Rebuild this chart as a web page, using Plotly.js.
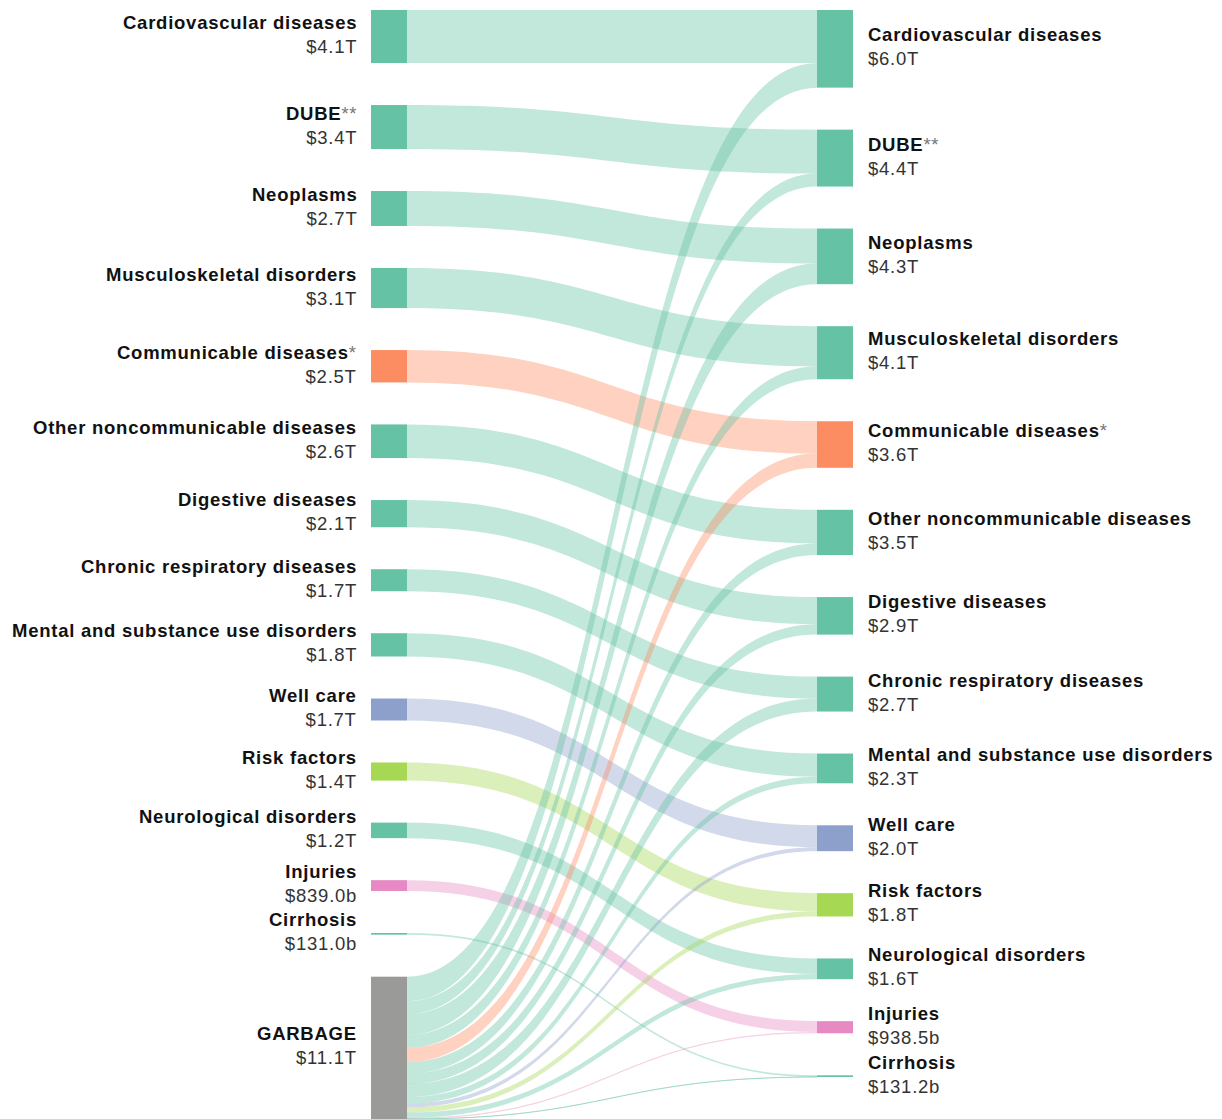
<!DOCTYPE html>
<html>
<head>
<meta charset="utf-8">
<script src="https://cdn.plot.ly/plotly-3.0.1.min.js"></script>
<style>
  html, body { margin: 0; padding: 0; background: #ffffff; }
  #chart { width: 1222px; height: 1119px; }
</style>
</head>
<body>
<div id="chart"></div>
<script>
// ---------- DATA ----------
const categories = [
  "Cardiovascular diseases", "DUBE", "Neoplasms", "Musculoskeletal disorders",
  "Communicable diseases", "Other noncommunicable diseases", "Digestive diseases",
  "Chronic respiratory diseases", "Mental and substance use disorders", "Well care",
  "Risk factors", "Neurological disorders", "Injuries", "Cirrhosis"
];
const categoryMarks = ["", "**", "", "", "*", "", "", "", "", "", "", "", "", ""];
const garbageLabel = "GARBAGE";

// flows (trillions USD) from each left category to the same category on the right
const directFlows = [4.1, 3.4, 2.7, 3.1, 2.5, 2.6, 2.1, 1.7, 1.8, 1.7, 1.4, 1.2, 0.839, 0.131];
// flows (trillions USD) from GARBAGE to each right category
const garbageFlows = [1.9, 1.0, 1.6, 1.0, 1.1, 0.9, 0.8, 1.0, 0.5, 0.3, 0.4, 0.4, 0.0995, 0.0002];

const leftValueLabels = ["$4.1T", "$3.4T", "$2.7T", "$3.1T", "$2.5T", "$2.6T", "$2.1T",
  "$1.7T", "$1.8T", "$1.7T", "$1.4T", "$1.2T", "$839.0b", "$131.0b"];
const garbageValueLabel = "$11.1T";
const rightValueLabels = ["$6.0T", "$4.4T", "$4.3T", "$4.1T", "$3.6T", "$3.5T", "$2.9T",
  "$2.7T", "$2.3T", "$2.0T", "$1.8T", "$1.6T", "$938.5b", "$131.2b"];

const categoryColors = ["#66c2a5", "#66c2a5", "#66c2a5", "#66c2a5", "#fc8d62", "#66c2a5",
  "#66c2a5", "#66c2a5", "#66c2a5", "#8da0cb", "#a6d854", "#66c2a5", "#e78ac3", "#66c2a5"];
const garbageColor = "#9a9b98";

// ---------- LAYOUT SETTINGS ----------
const W = 1222, Hfull = 1119;
const margin = {l: 0, r: 0, t: 10, b: 0};
const plotH = Hfull - margin.t - margin.b;
const domainX = [371 / W, 853 / W];
const domainW = (domainX[1] - domainX[0]) * W;
const nodeThickness = 36;
const nodePad = 42;

function rgba(hex, a) {
  const n = parseInt(hex.slice(1), 16);
  return `rgba(${(n >> 16) & 255},${(n >> 8) & 255},${n & 255},${a})`;
}

const N = categories.length;
const garbageIdx = N;
const rightIdx = i => N + 1 + i;

// node values as the library computes them
const leftVals = directFlows.slice();
const garbageVal = garbageFlows.reduce((a, b) => a + b, 0);
const leftColumn = leftVals.concat([garbageVal]);
const rightColumn = directFlows.map((v, i) => v + garbageFlows[i]);

const sum = a => a.reduce((x, y) => x + y, 0);
const ky = Math.min(
  (plotH - (leftColumn.length - 1) * nodePad) / sum(leftColumn),
  (plotH - (rightColumn.length - 1) * nodePad) / sum(rightColumn)
);

function centers(col) {
  const out = [];
  let y = 0;
  col.forEach(v => {
    const h = v * ky;
    out.push(y + h / 2);
    y += h + nodePad;
  });
  return out;
}
const leftCenters = centers(leftColumn);
const rightCenters = centers(rightColumn);

// ---------- NODES ----------
const nodeColors = [], nodeX = [], nodeY = [];
const xl = (nodeThickness / 2) / domainW, xr = 1 - (nodeThickness / 2) / domainW;
for (let i = 0; i < N; i++) { nodeColors.push(categoryColors[i]); nodeX.push(xl); nodeY.push(leftCenters[i] / plotH); }
nodeColors.push(garbageColor); nodeX.push(xl); nodeY.push(leftCenters[N] / plotH);
for (let i = 0; i < N; i++) { nodeColors.push(categoryColors[i]); nodeX.push(xr); nodeY.push(rightCenters[i] / plotH); }

// ---------- LINKS ----------
const src = [], tgt = [], val = [], lcol = [];
for (let i = 0; i < N; i++) {
  src.push(i); tgt.push(rightIdx(i)); val.push(directFlows[i]); lcol.push(rgba(categoryColors[i], 0.4));
}
for (let i = 0; i < N; i++) {
  src.push(garbageIdx); tgt.push(rightIdx(i)); val.push(garbageFlows[i]); lcol.push(rgba(categoryColors[i], 0.4));
}

const trace = {
  type: "sankey",
  arrangement: "fixed",
  domain: {x: domainX, y: [0, 1]},
  node: {
    label: new Array(2 * N + 1).fill(""),
    color: nodeColors,
    thickness: nodeThickness,
    pad: nodePad,
    line: {width: 0},
    x: nodeX,
    y: nodeY,
    hoverinfo: "none"
  },
  link: {source: src, target: tgt, value: val, color: lcol, hoverinfo: "none"},
  textfont: {size: 1, color: "rgba(0,0,0,0)"}
};

// ---------- LABELS ----------
const fontFamily = "Liberation Sans, Arial, Helvetica, sans-serif";
const LS = "letter-spacing:0.75px";
function labelText(name, mark, value) {
  const m = mark ? `<span style="font-weight:normal;color:#777;${LS}">${mark}</span>` : "";
  return `<b><span style="${LS}">${name}</span></b>${m}<br><span style="color:#333;${LS}">${value}</span>`;
}
const annotations = [];
const fontSpec = {family: fontFamily, size: 18.5, color: "#111"};
for (let i = 0; i < N; i++) {
  annotations.push({
    xref: "paper", yref: "paper", x: 359 / W, y: 1 - leftCenters[i] / plotH, yshift: 2,
    xanchor: "right", yanchor: "middle", align: "right", showarrow: false,
    text: labelText(categories[i], categoryMarks[i], leftValueLabels[i]),
    font: fontSpec
  });
  annotations.push({
    xref: "paper", yref: "paper", x: 866 / W, y: 1 - rightCenters[i] / plotH, yshift: 2,
    xanchor: "left", yanchor: "middle", align: "left", showarrow: false,
    text: labelText(categories[i], categoryMarks[i], rightValueLabels[i]),
    font: fontSpec
  });
}
annotations.push({
  xref: "paper", yref: "paper", x: 359 / W, y: 1 - leftCenters[N] / plotH, yshift: 2,
  xanchor: "right", yanchor: "middle", align: "right", showarrow: false,
  text: labelText(garbageLabel, "", garbageValueLabel),
  font: fontSpec
});

const layout = {
  width: W, height: Hfull,
  margin: margin,
  paper_bgcolor: "#ffffff",
  font: {family: fontFamily},
  annotations: annotations,
  showlegend: false
};

Plotly.newPlot("chart", [trace], layout, {displayModeBar: false, staticPlot: true});
</script>
</body>
</html>
